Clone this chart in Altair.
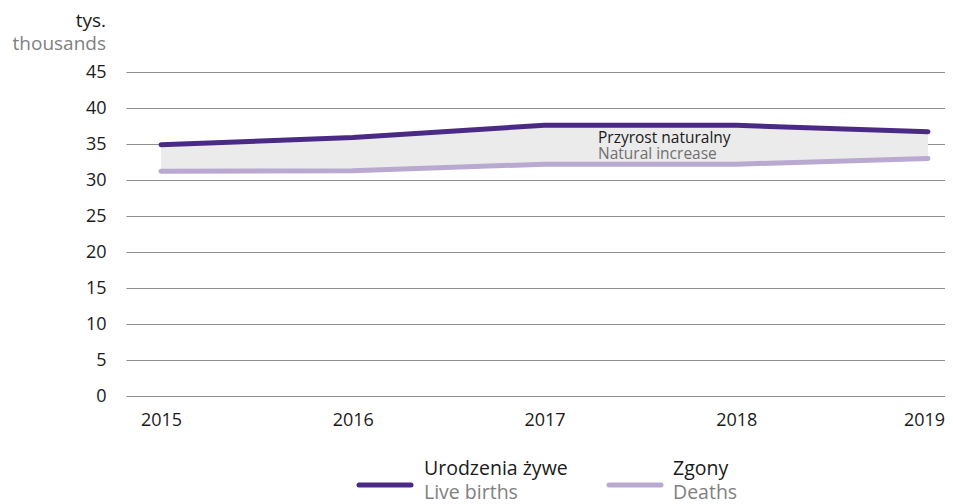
import altair as alt
import pandas as pd

years = [2015, 2016, 2017, 2018, 2019]
births = [34.9, 35.9, 37.6, 37.6, 36.7]
deaths = [31.2, 31.3, 32.2, 32.2, 33.0]

series_pl = ["Urodzenia żywe", "Zgony"]
series_en = ["Live births", "Deaths"]
series_colors = ["#4b2a86", "#b9a9d0"]
y_ticks = [0, 5, 10, 15, 20, 25, 30, 35, 40, 45]
annot_pl = "Przyrost naturalny"
annot_en = "Natural increase"
unit_pl = "tys."
unit_en = "thousands"

FONT = "Open Sans"
W, H = 819, 324

wide = pd.DataFrame({"year": years, "births": births, "deaths": deaths})
long = pd.DataFrame({
    "year": years * 2,
    "value": births + deaths,
    "series": [series_pl[0]] * len(years) + [series_pl[1]] * len(years),
})

xscale = alt.Scale(domain=[2014.8175, 2019.0887], nice=False, zero=False)
yscale = alt.Scale(domain=[0, 45], nice=False)

x_axis = alt.Axis(values=years, format="d", title=None, domain=False, ticks=False,
                  grid=False, labelFont=FONT, labelFontSize=18, labelColor="#1a1a1a",
                  labelPadding=15, labelOverlap=False,
                  labelOffset={"condition": {"test": f"datum.value == {years[-1]}", "value": -4}, "value": 0})
y_axis = alt.Axis(values=y_ticks, tickCount=10, title=None, domain=False, ticks=False, grid=True,
                  gridColor="#8f8f8f", gridWidth=1, labelFont=FONT, labelFontSize=18,
                  labelColor="#1a1a1a", labelPadding=20, labelOverlap=False)

band = alt.Chart(wide).mark_area(color="#ebebeb").encode(
    x=alt.X("year:Q", scale=xscale, axis=x_axis),
    y=alt.Y("births:Q", scale=yscale, axis=y_axis),
    y2="deaths:Q",
)

lines = alt.Chart(long).mark_line(strokeWidth=5, strokeCap="round", strokeJoin="round").encode(
    x=alt.X("year:Q", scale=xscale, axis=x_axis),
    y=alt.Y("value:Q", scale=yscale, axis=y_axis),
    color=alt.Color("series:N", scale=alt.Scale(domain=series_pl, range=series_colors), legend=None),
)

def txt(s, x, y, color, size, align="left"):
    return alt.Chart(pd.DataFrame({"t": [s]})).mark_text(
        font=FONT, fontSize=size, color=color, align=align, baseline="middle"
    ).encode(text="t:N", x=alt.value(x), y=alt.value(y))

def rule(x1, x2, y, color):
    return alt.Chart(pd.DataFrame({"a": [0]})).mark_rule(
        strokeWidth=5, strokeCap="round", color=color
    ).encode(x=alt.value(x1), x2=alt.value(x2), y=alt.value(y))

layers = [
    band, lines,
    txt(annot_pl, 472, 66, "#1a1a1a", 15.5),
    txt(annot_en, 472, 82, "#707070", 15.5),
    txt(unit_pl, -20, -51, "#1a1a1a", 19, "right"),
    txt(unit_en, -20, -28, "#808080", 19, "right"),
    rule(233, 285, 413, series_colors[0]),
    txt(series_pl[0], 298, 397, "#1a1a1a", 19.5),
    txt(series_en[0], 298, 421, "#808080", 19.5),
    rule(483, 535, 413, series_colors[1]),
    txt(series_pl[1], 547, 397, "#1a1a1a", 19.5),
    txt(series_en[1], 547, 421, "#808080", 19.5),
]

chart = alt.layer(*layers).properties(
    width=W, height=H,
    autosize=alt.AutoSizeParams(type="none"),
    padding={"left": 118, "top": 64, "right": 0, "bottom": 108},
).configure_view(stroke=None)

chart.save("out.html", embed_options={"renderer": "svg", "actions": False})
